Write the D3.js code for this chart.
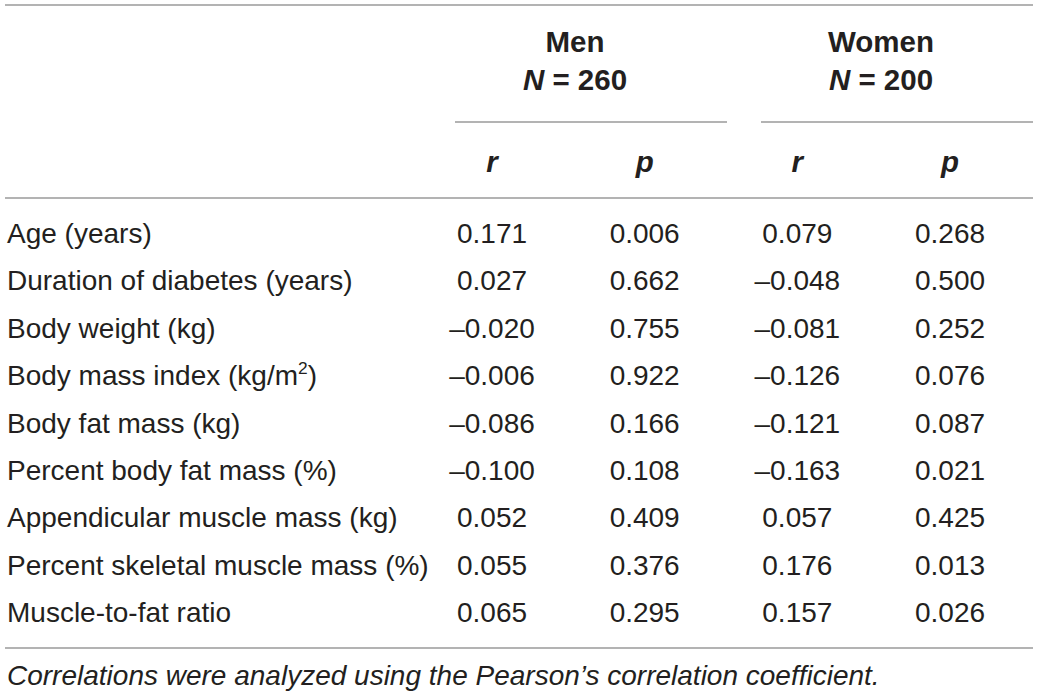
<!DOCTYPE html>
<html>
<head>
<meta charset="utf-8">
<script src="https://cdn.jsdelivr.net/npm/d3@7"></script>
<style>
  html, body { margin: 0; padding: 0; background: #fff; }
  svg text { font-family: "Liberation Sans", Arial, Helvetica, sans-serif; fill: #231f20; }
</style>
</head>
<body>
<svg id="chart" width="1040" height="696"></svg>
<script>
const rowLabels = [
  "Age (years)",
  "Duration of diabetes (years)",
  "Body weight (kg)",
  "Body mass index (kg/m2)",
  "Body fat mass (kg)",
  "Percent body fat mass (%)",
  "Appendicular muscle mass (kg)",
  "Percent skeletal muscle mass (%)",
  "Muscle-to-fat ratio"
];
const menR   = ["0.171", "0.027", "–0.020", "–0.006", "–0.086", "–0.100", "0.052", "0.055", "0.065"];
const menP   = ["0.006", "0.662", "0.755", "0.922", "0.166", "0.108", "0.409", "0.376", "0.295"];
const womenR = ["0.079", "–0.048", "–0.081", "–0.126", "–0.121", "–0.163", "0.057", "0.176", "0.157"];
const womenP = ["0.268", "0.500", "0.252", "0.076", "0.087", "0.021", "0.425", "0.013", "0.026"];
const groups = [{name: "Men", n: "260"}, {name: "Women", n: "200"}];
const statLabels = ["r", "p", "r", "p"];
const footnote = "Correlations were analyzed using the Pearson’s correlation coefficient.";

const svg = d3.select("#chart");
const lineColor = "#9a9a9a";
const fs = 28;
const hfs = 29.5;

// column positions
const colKeys = ["menR", "menP", "womenR", "womenP"];
const xCol = d3.scalePoint().domain(colKeys).range([492, 950]);
const groupX = d3.scalePoint().domain(groups.map(g => g.name)).range([575, 881]);
const groupLine = d3.scaleBand().domain(groups.map(g => g.name)).range([455, 1033]).paddingInner(0.111);

// row positions (baselines)
const yRow = d3.scaleLinear().domain([0, rowLabels.length - 1]).range([243, 622]);

// horizontal rules
const rules = [
  {y: 5, x1: 5, x2: 1033},
  {y: 198, x1: 5, x2: 1033},
  {y: 648, x1: 5, x2: 1033}
];
svg.selectAll("line.rule").data(rules).enter().append("line")
  .attr("class", "rule")
  .attr("x1", d => d.x1).attr("x2", d => d.x2)
  .attr("y1", d => d.y).attr("y2", d => d.y)
  .attr("stroke", lineColor).attr("stroke-width", 1.6);

// group underlines
svg.selectAll("line.grp").data(groups).enter().append("line")
  .attr("class", "grp")
  .attr("x1", d => groupLine(d.name))
  .attr("x2", d => groupLine(d.name) + groupLine.bandwidth())
  .attr("y1", 122).attr("y2", 122)
  .attr("stroke", lineColor).attr("stroke-width", 1.6);

// group headers
svg.selectAll("text.gname").data(groups).enter().append("text")
  .attr("class", "gname")
  .attr("x", d => groupX(d.name)).attr("y", 52)
  .attr("text-anchor", "middle")
  .attr("font-size", hfs).attr("font-weight", "bold")
  .text(d => d.name);

const gn = svg.selectAll("text.gn").data(groups).enter().append("text")
  .attr("class", "gn")
  .attr("x", d => groupX(d.name)).attr("y", 90)
  .attr("text-anchor", "middle")
  .attr("font-size", hfs).attr("font-weight", "bold");
gn.append("tspan").attr("font-style", "italic").text("N");
gn.append("tspan").text(d => " = " + d.n);

// r / p headers
svg.selectAll("text.stat").data(statLabels).enter().append("text")
  .attr("class", "stat")
  .attr("x", (d, i) => xCol(colKeys[i])).attr("y", 172)
  .attr("text-anchor", "middle")
  .attr("font-size", hfs).attr("font-weight", "bold").attr("font-style", "italic")
  .text(d => d);

// row labels
const lab = svg.selectAll("text.row").data(rowLabels).enter().append("text")
  .attr("class", "row")
  .attr("x", 7).attr("y", (d, i) => yRow(i))
  .attr("font-size", fs);
lab.each(function(d) {
  const t = d3.select(this);
  if (d.endsWith("m2)")) {
    t.append("tspan").text(d.slice(0, -2));
    t.append("tspan").attr("font-size", fs * 0.62).attr("dy", -11).text("2");
    t.append("tspan").attr("dy", 11).text(")");
  } else {
    t.text(d);
  }
});

// values
const cols = {menR, menP, womenR, womenP};
colKeys.forEach(k => {
  svg.selectAll("text.v-" + k).data(cols[k]).enter().append("text")
    .attr("class", "v-" + k)
    .attr("x", xCol(k)).attr("y", (d, i) => yRow(i))
    .attr("text-anchor", "middle")
    .attr("font-size", fs)
    .text(d => d);
});

// footnote
svg.append("text")
  .attr("x", 7).attr("y", 685)
  .attr("font-size", fs).attr("font-style", "italic")
  .text(footnote);
</script>
</body>
</html>
